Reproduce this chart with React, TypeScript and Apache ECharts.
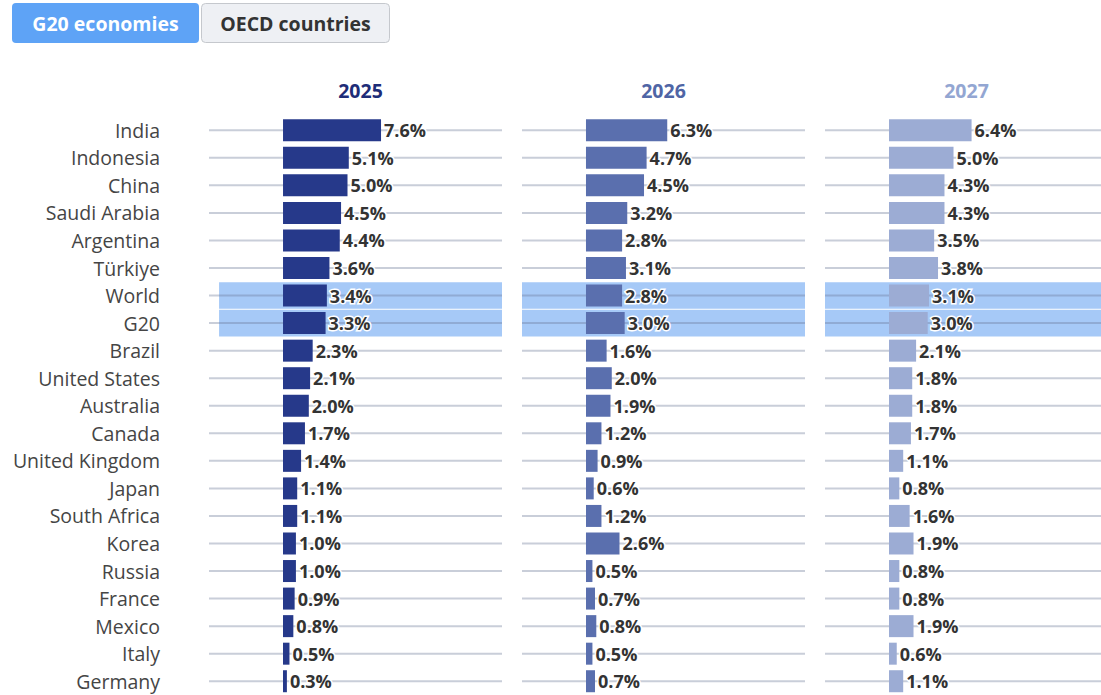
import React, { useEffect, useRef } from "react";
import * as echarts from "echarts";

const categories = [
  "India", "Indonesia", "China", "Saudi Arabia", "Argentina", "Türkiye", "World", "G20",
  "Brazil", "United States", "Australia", "Canada", "United Kingdom", "Japan",
  "South Africa", "Korea", "Russia", "France", "Mexico", "Italy", "Germany",
];
const years = ["2025", "2026", "2027"];
const values2025 = [7.6, 5.1, 5.0, 4.5, 4.4, 3.6, 3.4, 3.3, 2.3, 2.1, 2.0, 1.7, 1.4, 1.1, 1.1, 1.0, 1.0, 0.9, 0.8, 0.5, 0.3];
const values2026 = [6.3, 4.7, 4.5, 3.2, 2.8, 3.1, 2.8, 3.0, 1.6, 2.0, 1.9, 1.2, 0.9, 0.6, 1.2, 2.6, 0.5, 0.7, 0.8, 0.5, 0.7];
const values2027 = [6.4, 5.0, 4.3, 4.3, 3.5, 3.8, 3.1, 3.0, 2.1, 1.8, 1.8, 1.7, 1.1, 0.8, 1.6, 1.9, 0.8, 0.8, 1.9, 0.6, 1.1];
const highlightRows = ["World", "G20"];
const buttons = ["G20 economies", "OECD countries"];

const seriesValues = [values2025, values2026, values2027];
const barColors = ["#26398a", "#5a6fae", "#9cacd4"];
const titleColors = ["#1e2d78", "#4f65a5", "#93a6d2"];
const gridLefts = [209, 522, 825];
const gridRights = [1101 - 502, 1101 - 805, 0];
const axisMins = [-5.74, -4.96, -4.96];
const axisMaxs = [16.98, 16.98, 16.43];
const highlightMin = -4.96;
const FONT = "'Open Sans', 'Noto Sans', sans-serif";

export default function App() {
  const ref = useRef<HTMLDivElement>(null);
  useEffect(() => {
    if (!ref.current) return;
    const chart = echarts.init(ref.current, undefined, { renderer: "svg" });

    const grids = years.map((_, i) => ({
      left: gridLefts[i],
      right: gridRights[i],
      top: 116.5,
      height: 584.5,
      containLabel: false,
    }));
    const xAxes = years.map((_, i) => ({
      type: "value",
      gridIndex: i,
      min: axisMins[i],
      max: axisMaxs[i],
      show: false,
    }));
    const yAxes = years.map((_, i) => ({
      type: "category",
      gridIndex: i,
      data: categories,
      inverse: true,
      axisLine: { show: false },
      axisTick: { show: false },
      splitLine: { show: false },
      axisLabel: {
        show: i === 0,
        margin: 49,
        fontSize: 19.5,
        color: "#454545",
        fontFamily: FONT,
      },
    }));

    const series: any[] = [];
    years.forEach((year, i) => {
      series.push({
        type: "custom",
        name: "highlight" + year,
        xAxisIndex: i,
        yAxisIndex: i,
        z: 0,
        silent: true,
        encode: { x: [0, 1], y: 2 },
        data: highlightRows.map((r) => [highlightMin, axisMaxs[i], categories.indexOf(r)]),
        renderItem: (params: any, api: any) => {
          const a = api.coord([api.value(0), api.value(2)]);
          const b = api.coord([api.value(1), api.value(2)]);
          const h = api.size([0, 1])[1];
          return {
            type: "rect",
            shape: { x: a[0], y: a[1] - h / 2 + 0.5, width: b[0] - a[0], height: h - 1 },
            style: { fill: "#a6c9f7" },
          };
        },
      });
      series.push({
        type: "custom",
        name: "rows" + year,
        xAxisIndex: i,
        yAxisIndex: i,
        z: 1,
        silent: true,
        encode: { x: [0, 1], y: 2 },
        data: categories.map((_, k) => [axisMins[i], axisMaxs[i], k]),
        renderItem: (params: any, api: any) => {
          const a = api.coord([api.value(0), api.value(2)]);
          const b = api.coord([api.value(1), api.value(2)]);
          return {
            type: "line",
            shape: { x1: a[0], y1: a[1], x2: b[0], y2: b[1] },
            style: { stroke: "rgba(105,118,150,0.36)", lineWidth: 2 },
          };
        },
      });
      series.push({
        type: "bar",
        name: year,
        xAxisIndex: i,
        yAxisIndex: i,
        z: 2,
        clip: false,
        barWidth: 22,
        data: seriesValues[i],
        itemStyle: { color: barColors[i] },
        label: {
          show: true,
          position: "right",
          distance: 3,
          formatter: (p: any) => Number(p.value).toFixed(1) + "%",
          fontFamily: FONT,
          fontWeight: "bold",
          fontSize: 18,
          color: "#333333",
          textBorderColor: "#ffffff",
          textBorderWidth: 3,
        },
      });
    });

    const graphic: any[] = [
      {
        type: "rect",
        shape: { x: 12, y: 3, width: 187, height: 40, r: 4 },
        style: { fill: "#5ea3f6" },
      },
      {
        type: "text",
        x: 105.5,
        y: 23,
        style: {
          text: buttons[0],
          textAlign: "center",
          textVerticalAlign: "middle",
          fill: "#ffffff",
          font: `bold 19.5px ${FONT}`,
        },
      },
      {
        type: "rect",
        shape: { x: 201.5, y: 3.5, width: 188, height: 39, r: 4 },
        style: { fill: "#eef0f4", stroke: "#c5c8cd", lineWidth: 1 },
      },
      {
        type: "text",
        x: 295.5,
        y: 23,
        style: {
          text: buttons[1],
          textAlign: "center",
          textVerticalAlign: "middle",
          fill: "#333333",
          font: `bold 19.5px ${FONT}`,
        },
      },
      ...years.map((y, i) => ({
        type: "text",
        x: [360.5, 663.5, 966.5][i],
        y: 90,
        style: {
          text: y,
          textAlign: "center",
          textVerticalAlign: "middle",
          fill: titleColors[i],
          font: `bold 19.5px ${FONT}`,
        },
      })),
    ];

    chart.setOption({
      animation: false,
      backgroundColor: "#ffffff",
      grid: grids,
      xAxis: xAxes,
      yAxis: yAxes,
      series,
      graphic,
    });
    return () => chart.dispose();
  }, []);

  return (
    <div
      ref={ref}
      style={{ position: "absolute", left: 0, top: 0, width: 1101, height: 695 }}
    />
  );
}
